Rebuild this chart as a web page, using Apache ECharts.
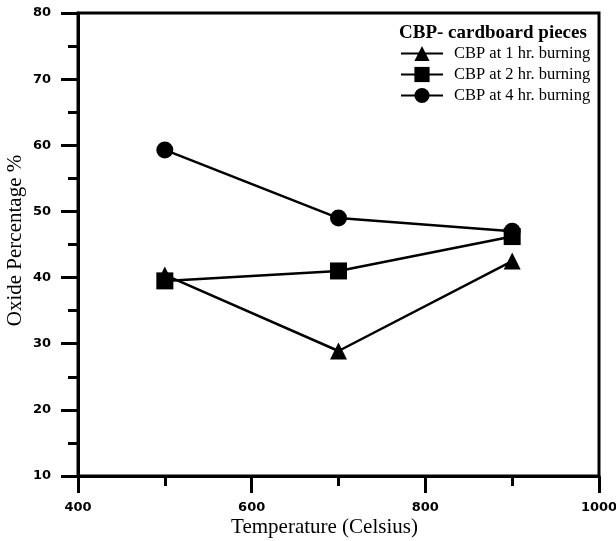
<!DOCTYPE html>
<html><head><meta charset="utf-8">
<script src="https://cdn.jsdelivr.net/npm/echarts@6/dist/echarts.min.js"></script>
<style>html,body{margin:0;padding:0;background:#fff}#c{width:616px;height:541px}</style>
</head><body><div id="c"></div>
<script>
const temps = [500, 700, 900];
const hr1 = [40.4, 28.9, 42.5];
const hr2 = [39.5, 41.0, 46.2];
const hr4 = [59.3, 49.0, 47.0];
const names = ['CBP at 1 hr. burning', 'CBP at 2 hr. burning', 'CBP at 4 hr. burning'];
const legendTitle = 'CBP- cardboard pieces';
const xTitle = 'Temperature (Celsius)';
const yTitle = 'Oxide Percentage %';

const chart = echarts.init(document.getElementById('c'), null, {renderer: 'canvas'});
const serif = '"Liberation Serif", "Times New Roman", serif';
const tickFont = {fontFamily: '"DejaVu Sans", sans-serif', fontWeight: 'bold', fontSize: 13, color: '#000', formatter: v => String(v)};
function mk(name, vals, sym, z) {
  return {
    name: name, type: 'line', data: temps.map((t, i) => [t, vals[i]]),
    symbol: sym, symbolSize: 17, z: z,
    lineStyle: {color: '#000', width: 2.5},
    itemStyle: {color: '#000'},
    animation: false
  };
}
chart.setOption({
  animation: false,
  title: {text: legendTitle, left: 399, top: 24, padding: 0,
    textStyle: {fontFamily: serif, fontWeight: 'bold', fontSize: 19, color: '#000'}},
  legend: {data: names, orient: 'vertical', left: 400, top: 45, itemWidth: 42, itemHeight: 19, itemGap: 4, padding: 0,
    textStyle: {fontFamily: serif, fontSize: 16.5, color: '#000', padding: [0, 0, 0, 6]}},
  grid: {left: 78, right: 17, top: 13, bottom: 65, show: true, borderColor: '#000', borderWidth: 3, outerBoundsMode: 'none', containLabel: false},
  xAxis: {type: 'value', min: 400, max: 1000, interval: 200,
    name: xTitle, nameLocation: 'middle', nameGap: 41, nameMoveOverlap: false,
    nameTextStyle: {fontFamily: serif, fontSize: 21, color: '#000', padding: [0, 28, 0, 0]},
    axisLine: {lineStyle: {color: '#000', width: 3}},
    axisTick: {length: 17, lineStyle: {width: 3, color: '#000'}},
    minorTick: {show: true, splitNumber: 2, length: 10, lineStyle: {width: 3, color: '#000'}},
    splitLine: {show: false},
    axisLabel: Object.assign({margin: 25}, tickFont)},
  yAxis: {type: 'value', min: 10, max: 80, interval: 10,
    name: yTitle, nameLocation: 'middle', nameGap: 52, nameRotate: 90, nameMoveOverlap: false,
    nameTextStyle: {fontFamily: serif, fontSize: 21, color: '#000', padding: [0, 0, 0, 8]},
    axisLine: {lineStyle: {color: '#000', width: 3}},
    axisTick: {length: 17, lineStyle: {width: 3, color: '#000'}},
    minorTick: {show: true, splitNumber: 2, length: 10, lineStyle: {width: 3, color: '#000'}},
    splitLine: {show: false},
    axisLabel: Object.assign({margin: 27}, tickFont)},
  series: [mk(names[0], hr1, 'triangle', 2), mk(names[2], hr4, 'circle', 3), mk(names[1], hr2, 'rect', 4)]
});
</script></body></html>
